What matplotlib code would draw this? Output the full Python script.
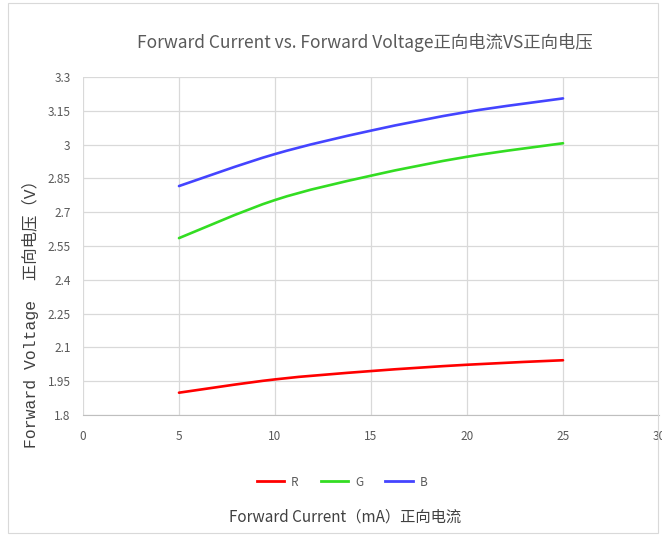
import numpy as np
import matplotlib
matplotlib.use("Agg")
import matplotlib.pyplot as plt
from matplotlib.path import Path
from matplotlib.patches import PathPatch
from matplotlib.lines import Line2D

current = [5, 10, 15, 20, 25]
v_red = [1.899, 1.958, 1.995, 2.023, 2.043]
v_green = [2.585, 2.754, 2.862, 2.946, 3.006]
v_blue = [2.816, 2.958, 3.062, 3.145, 3.205]
series_names = ["R", "G", "B"]
series_colors = ["#ff0000", "#33dd22", "#4444ff"]
yticks = [1.8, 1.95, 2.1, 2.25, 2.4, 2.55, 2.7, 2.85, 3.0, 3.15, 3.3]
ytick_labels = ["1.8", "1.95", "2.1", "2.25", "2.4", "2.55", "2.7", "2.85", "3", "3.15", "3.3"]
xticks = [0, 5, 10, 15, 20, 25, 30]

plt.rcParams['font.family'] = ['Noto Sans CJK SC', 'DejaVu Sans']

fig = plt.figure(figsize=(6.62, 5.36), dpi=100)
ax = fig.add_axes([83/662, 1-415/536, 576/662, 338/536])


def smooth_path(xs, ys, t=1/6):
    # Excel-like smoothed line: cubic Bezier with Catmull-Rom control points
    xs = np.asarray(xs, float); ys = np.asarray(ys, float)
    n = len(xs)
    verts = [(xs[0], ys[0])]
    codes = [Path.MOVETO]
    for i in range(n - 1):
        p0 = (xs[max(i-1, 0)], ys[max(i-1, 0)])
        p1 = (xs[i], ys[i])
        p2 = (xs[i+1], ys[i+1])
        p3 = (xs[min(i+2, n-1)], ys[min(i+2, n-1)])
        c1 = (p1[0] + (p2[0]-p0[0])*t, p1[1] + (p2[1]-p0[1])*t)
        c2 = (p2[0] - (p3[0]-p1[0])*t, p2[1] - (p3[1]-p1[1])*t)
        verts += [c1, c2, p2]
        codes += [Path.CURVE4]*3
    return Path(verts, codes)


for vals, col in zip([v_red, v_green, v_blue], series_colors):
    ax.add_patch(PathPatch(smooth_path(current, vals), facecolor='none',
                           edgecolor=col, lw=1.9, capstyle='round', zorder=3))

ax.set_xlim(0, 30)
ax.set_ylim(1.8, 3.3)
ax.set_xticks(xticks)
ax.set_yticks(yticks)
ax.set_yticklabels(ytick_labels)
ax.grid(True, color='#d9d9d9', lw=0.9)
ax.set_axisbelow(True)
for s in ['top', 'right', 'left']:
    ax.spines[s].set_visible(False)
ax.spines['bottom'].set_color('#bfbfbf')
ax.tick_params(length=0, colors='#595959', labelsize=8.5)
ax.tick_params(axis='x', pad=11)
ax.tick_params(axis='y', pad=9)

fig.text(365/662, 1-42/536, "Forward Current vs. Forward Voltage正向电流VS正向电压",
         ha='center', va='center', fontsize=12.5, color='#595959')

fig.text(30/662, 1-310/536, "Forward Voltage  正向电压（V）", rotation=90,
         ha='center', va='center', fontsize=11.8, color='#404040',
         family=['Liberation Mono', 'Noto Sans CJK SC'])

fig.text(345/662, 1-517/536, "Forward Current（mA）正向电流",
         ha='center', va='center', fontsize=11, color='#404040')

handles = [Line2D([], [], color=c, lw=2) for c in series_colors]
fig.legend(handles, series_names, loc='center', bbox_to_anchor=(342/662, 1-482/536),
           ncol=3, frameon=False, fontsize=8.5, handlelength=2.3, handletextpad=0.6,
           columnspacing=1.9, labelcolor='#595959')

border = plt.Rectangle((8/662, 0.005), 650/662, 0.99, transform=fig.transFigure,
                       fill=False, edgecolor='#d9d9d9', lw=0.8)
fig.patches.append(border)

fig.savefig("out.png", dpi=100)
